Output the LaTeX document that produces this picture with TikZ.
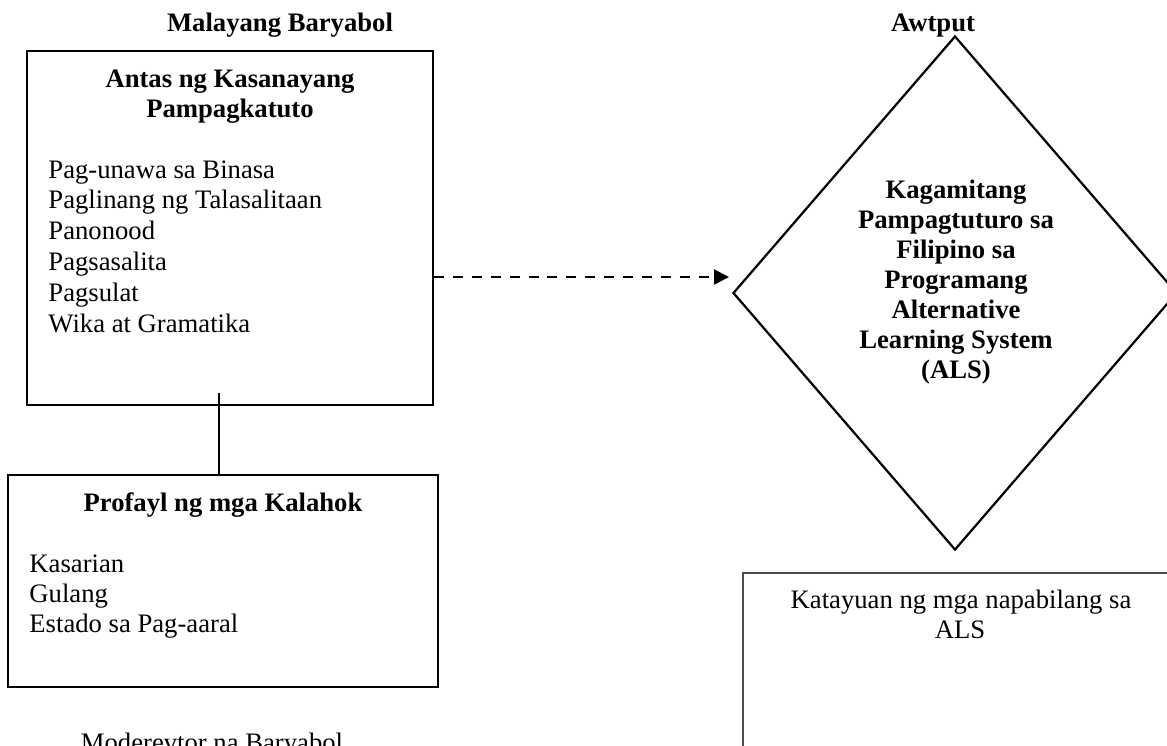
\documentclass[tikz,border=0pt]{standalone}
\usepackage{fontspec}
\setmainfont{Liberation Serif}
\usetikzlibrary{arrows.meta,shapes.geometric}

\begin{document}
\begin{tikzpicture}[x=0.45pt,y=-0.45pt,
  txt/.style={font=\fontsize{12}{13.6}\selectfont,inner sep=0pt},
  hdr/.style={font=\fontsize{12}{13.6}\selectfont\bfseries,inner sep=0pt},
  box/.style={draw,line width=1pt,inner sep=0pt}]
\useasboundingbox (0,0) rectangle (1167,745);
\clip (0,0) rectangle (1167,745);
    % Headings
\node[hdr,anchor=base] (malaya) at (280,31) {Malayang Baryabol};
\node[hdr,anchor=base] (awt) at (933,31) {Awtput};
    % Left boxes
\node[box,minimum width=406*0.45pt,minimum height=354*0.45pt] (antas) at (230,228) {};
\node[hdr,anchor=base] (antas-t1) at (230,87) {Antas ng Kasanayang};
\node[hdr,anchor=base] (antas-t2) at (230,117) {Pampagkatuto};
\foreach \t [count=\i] in {Pag-unawa sa Binasa,Paglinang ng Talasalitaan,Panonood,Pagsasalita,Pagsulat,Wika at Gramatika}
  \node[txt,anchor=base west] (antas-\i) at (48,178+30.8*\i-30.8) {\t};
\node[box,minimum width=430*0.45pt,minimum height=212*0.45pt] (profayl) at (223,581) {};
\node[hdr,anchor=base] (profayl-t) at (223,511) {Profayl ng mga Kalahok};
\foreach \t [count=\i] in {Kasarian,Gulang,Estado sa Pag-aaral}
  \node[txt,anchor=base west] (profayl-\i) at (29,572+30*\i-30) {\t};
\node[txt,anchor=base] (moder) at (212,751) {Moderevtor na Baryabol};
    % Output diamond
\node[draw,diamond,line width=1pt,inner sep=0pt,minimum width=444*0.45pt,minimum height=514*0.45pt] (kagamit) at (955,293) {};
\foreach \t [count=\i] in {Kagamitang,Pampagtuturo sa,Filipino sa,Programang,Alternative,Learning System,(ALS)}
  \node[hdr,anchor=base] (kagamit-\i) at (956,198+30*\i-30) {\t};
\node[draw=black!70,line width=0.8pt,inner sep=0pt,minimum width=447*0.45pt,minimum height=227*0.45pt] (katayuan) at (966.5,686.5) {};
\node[txt,anchor=base] (katayuan-1) at (961,608) {Katayuan ng mga napabilang sa};
\node[txt,anchor=base] (katayuan-2) at (960,638) {ALS};
    % Connectors
\coordinate (link) at (219,393);
\draw[line width=1pt] (link) -- (link |- profayl.north);
\coordinate (tip) at (729,277);
\draw[line width=1pt,dash pattern=on 4.5pt off 4pt,-{Triangle[length=6.75pt,width=6.75pt]}] (antas.east |- tip) -- (tip);
\end{tikzpicture}
\end{document}
